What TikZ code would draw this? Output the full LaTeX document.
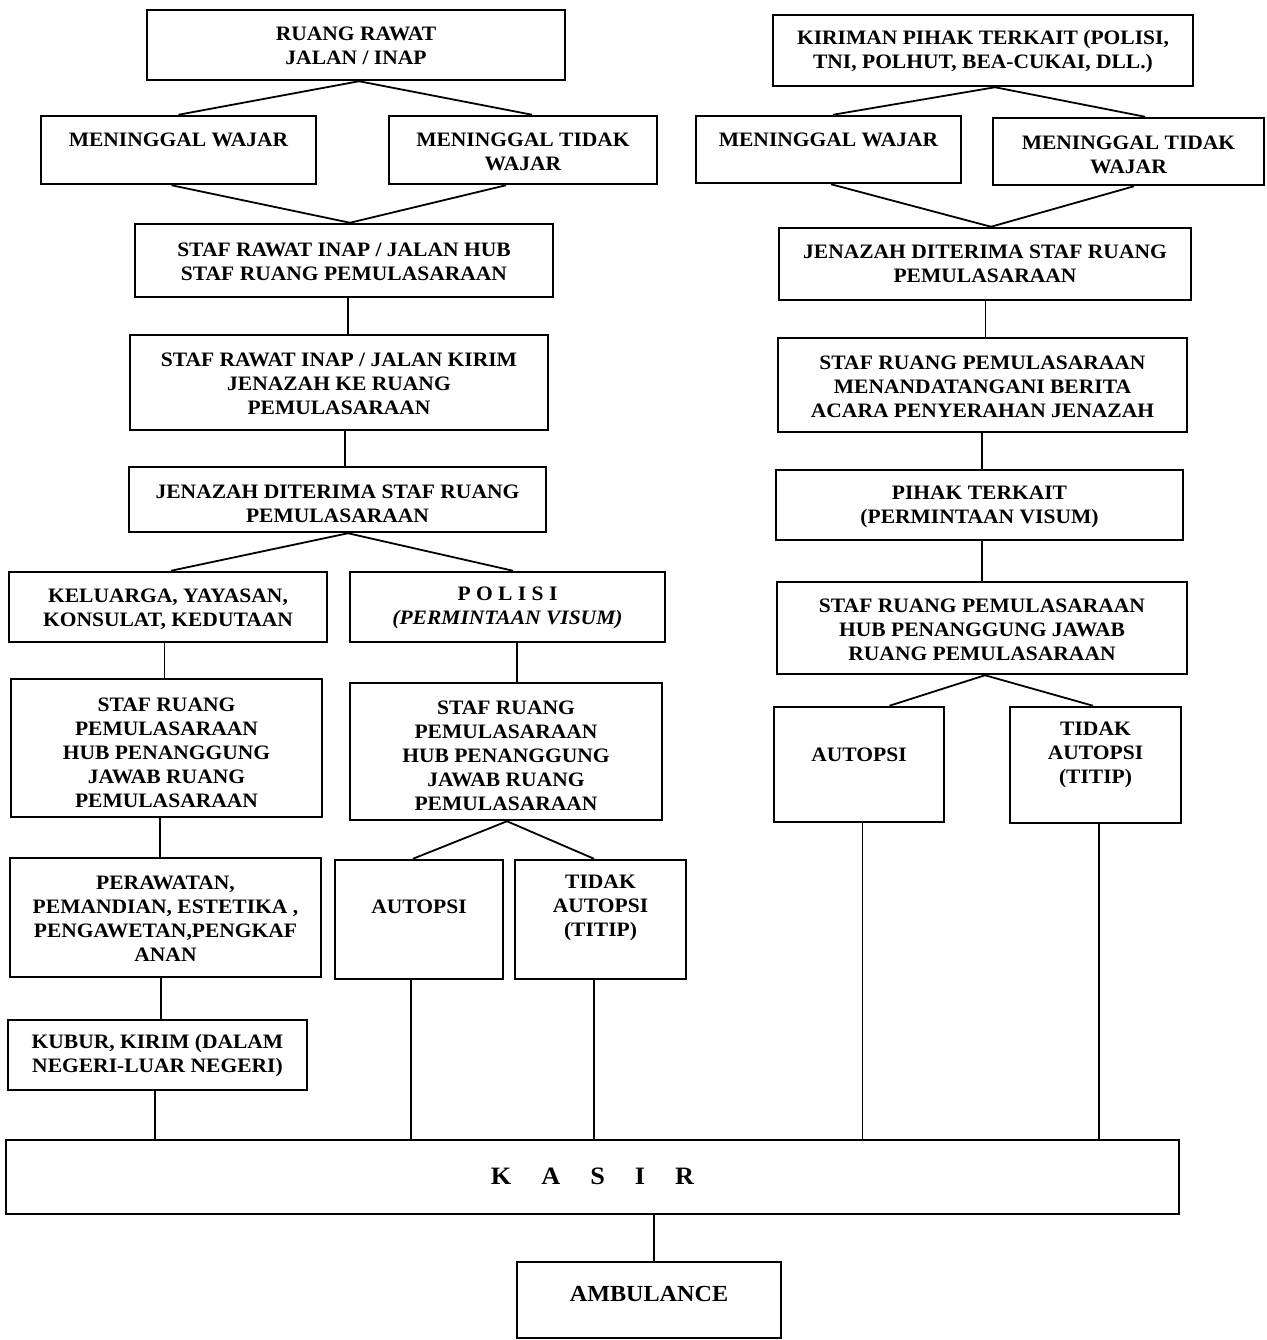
\documentclass[tikz,border=0pt]{standalone}
\usepackage{fontspec}
\setmainfont{Liberation Serif}[FakeStretch=1.05]
\newcommand\bx[7]{%
  \node[box, minimum width={(#4)-(#2)}, minimum height={(#5)-(#3)}] (#1) at ({((#2)+(#4))/2},{((#3)+(#5))/2}) {};
  \node[txt] (#1t) at ({((#2)+(#4))/2},#6) {#7};}
\begin{document}
\begin{tikzpicture}[x=1pt,y=-1pt,
  box/.style={draw=black, line width=2.5pt, inner sep=0pt, rectangle},
  txt/.style={font=\fontsize{20.5}{24}\selectfont\bfseries, align=center, inner sep=0pt, text=black},
  con/.style={draw=black, line width=1.8pt}]
\fill[white] (0,0) rectangle (1266,1340);
\useasboundingbox (0,0) rectangle (1266,1340);
% left column
\bx{ruang}{147}{10}{565}{80}{46}{RUANG RAWAT\\JALAN / INAP}
\bx{mwl}{41}{116}{316}{184}{140}{MENINGGAL WAJAR}
\bx{mtwl}{389}{116}{657}{184}{152}{MENINGGAL TIDAK\\WAJAR}
\bx{stafhub}{135}{224}{553}{297}{262}{STAF RAWAT INAP / JALAN HUB\\STAF RUANG PEMULASARAAN}
\bx{kirim}{130}{335}{548}{430}{384}{STAF RAWAT INAP / JALAN KIRIM\\JENAZAH KE RUANG\\PEMULASARAAN}
\bx{jenL}{129}{467}{546}{532}{504}{JENAZAH DITERIMA STAF RUANG\\PEMULASARAAN}
\bx{kel}{9}{572}{327}{642}{609}{KELUARGA, YAYASAN,\\KONSULAT, KEDUTAAN}
\bx{pol}{350}{572}{665}{642}{608}{P O L I S I\\\textit{(PERMINTAAN VISUM)}}
\bx{staffL}{11}{679}{322}{817}{753}{STAF RUANG\\PEMULASARAAN\\HUB PENANGGUNG\\JAWAB RUANG\\PEMULASARAAN}
\bx{staffM}{350}{683}{662}{820}{755.5}{STAF RUANG\\PEMULASARAAN\\HUB PENANGGUNG\\JAWAB RUANG\\PEMULASARAAN}
\bx{perawatan}{10}{858}{321}{977}{919}{PERAWATAN,\\PEMANDIAN, ESTETIKA ,\\PENGAWETAN,PENGKAF\\ANAN}
\bx{autM}{335}{860}{503}{979}{906.5}{AUTOPSI}
\bx{tidM}{515}{860}{686}{979}{907.5}{TIDAK\\AUTOPSI\\(TITIP)}
\bx{kubur}{8}{1020}{307}{1090}{1055.5}{KUBUR, KIRIM (DALAM\\NEGERI-LUAR NEGERI)}
% right column
\bx{kiriman}{773}{15}{1193}{86}{52}{KIRIMAN PIHAK TERKAIT (POLISI,\\TNI, POLHUT, BEA-CUKAI, DLL.)}
\bx{mwr}{696}{116}{961}{183}{140}{MENINGGAL WAJAR}
\bx{mtwr}{993}{118}{1264}{185}{154.5}{MENINGGAL TIDAK\\WAJAR}
\bx{jenR}{779}{228}{1191}{300}{264}{JENAZAH DITERIMA STAF RUANG\\PEMULASARAAN}
\bx{menand}{778}{338}{1187}{432}{387}{STAF RUANG PEMULASARAAN\\MENANDATANGANI BERITA\\ACARA PENYERAHAN JENAZAH}
\bx{pihak}{776}{470}{1183}{540}{507}{PIHAK TERKAIT\\(PERMINTAAN VISUM)}
\bx{hubR}{777}{582}{1187}{674}{629.5}{STAF RUANG PEMULASARAAN\\HUB PENANGGUNG JAWAB\\RUANG PEMULASARAAN}
\bx{autR}{774}{707}{944}{822}{755}{AUTOPSI}
\bx{tidR}{1010}{707}{1181}{823}{755}{TIDAK\\AUTOPSI\\(TITIP)}
% bottom
\bx{kasir}{6}{1140}{1179}{1214}{1176}{\fontsize{25}{28}\selectfont K\hspace{30pt}A\hspace{30pt}S\hspace{30pt}I\hspace{30pt}R}
\bx{amb}{517}{1262}{781}{1338}{1294}{\fontsize{23}{26}\selectfont AMBULANCE}
% connectors left
\draw[con] ([xshift=3]ruang.south) -- (mwl.north);
\draw[con] ([xshift=3]ruang.south) -- ([xshift=9]mtwl.north);
\draw[con] ([xshift=-7]mwl.south) -- ([xshift=6]stafhub.north);
\draw[con] ([xshift=-17]mtwl.south) -- ([xshift=6]stafhub.north);
\draw[con] ([xshift=4]stafhub.south) -- ([xshift=9]kirim.north);
\draw[con] ([xshift=6]kirim.south) -- ([xshift=7.5]jenL.north);
\draw[con] ([xshift=10.5]jenL.south) -- ([xshift=3]kel.north);
\draw[con] ([xshift=10.5]jenL.south) -- ([xshift=5.5]pol.north);
\draw[con] ([xshift=-3.5]kel.south) -- ([xshift=-2]staffL.north);
\draw[con] ([xshift=9.5]pol.south) -- ([xshift=11]staffM.north);
\draw[con] ([xshift=-6.5]staffL.south) -- ([xshift=-5.5]perawatan.north);
\draw[con] ([xshift=1]staffM.south) -- ([xshift=-6]autM.north);
\draw[con] ([xshift=1]staffM.south) -- ([xshift=-6.5]tidM.north);
\draw[con] ([xshift=-4.5]perawatan.south) -- ([xshift=3.5]kubur.north);
\draw[con] ([xshift=-2.5]kubur.south) -- ([xshift=-2.5]kubur.south |- kasir.north);
\draw[con] ([xshift=-8]autM.south) -- ([xshift=-8]autM.south |- kasir.north);
\draw[con] ([xshift=-6.5]tidM.south) -- ([xshift=-6.5]tidM.south |- kasir.north);
% connectors right
\draw[con] ([xshift=12]kiriman.south) -- ([xshift=4.5]mwr.north);
\draw[con] ([xshift=12]kiriman.south) -- ([xshift=16.5]mtwr.north);
\draw[con] ([xshift=2.5]mwr.south) -- ([xshift=6]jenR.north);
\draw[con] ([xshift=5.5]mtwr.south) -- ([xshift=6]jenR.north);
\draw[con] ([xshift=0.5]jenR.south) -- ([xshift=3]menand.north);
\draw[con] ([xshift=-0.5]menand.south) -- ([xshift=2.5]pihak.north);
\draw[con] ([xshift=2.5]pihak.south) -- (hubR.north);
\draw[con] ([xshift=3]hubR.south) -- ([xshift=30.5]autR.north);
\draw[con] ([xshift=3]hubR.south) -- ([xshift=-2.5]tidR.north);
\draw[con] ([xshift=3.5]autR.south) -- ([xshift=3.5]autR.south |- kasir.north);
\draw[con] ([xshift=3.5]tidR.south) -- ([xshift=3.5]tidR.south |- kasir.north);
\draw[con] ([xshift=5]amb.north |- kasir.south) -- ([xshift=5]amb.north);
\end{tikzpicture}
\end{document}
